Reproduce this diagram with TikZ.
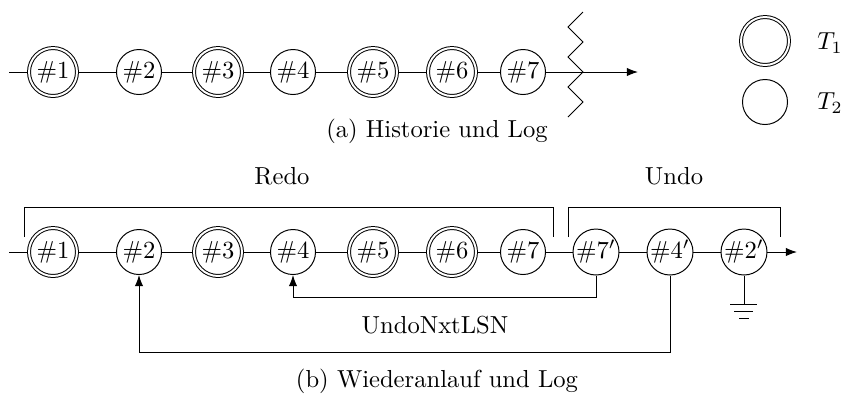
\documentclass[tikz,border=0pt]{standalone}
\usetikzlibrary{arrows.meta}
\begin{document}
\begin{tikzpicture}[x=0.4065pt,y=-0.4065pt,
  sstate/.style={draw,circle,inner sep=0pt,minimum size=18.3pt},
  dstate/.style={draw,circle,inner sep=0pt,minimum size=19.5pt,double,double distance=0.8pt,outer sep=0.8pt},
  arr/.style={-{Latex[length=4.5pt,width=3.4pt]}},
  lbl/.style={inner sep=0pt}]
\useasboundingbox (0,0) rectangle (846,395);
% row a
\node[dstate] (a1) at (53,72) {$\#1$};
\node[sstate] (a2) at (139,72) {$\#2$};
\node[dstate] (a3) at (218,72) {$\#3$};
\node[sstate] (a4) at (293,72) {$\#4$};
\node[dstate] (a5) at (373,72) {$\#5$};
\node[dstate] (a6) at (452,72) {$\#6$};
\node[sstate] (a7) at (523,72) {$\#7$};
\coordinate (a0) at (9,72);
\coordinate (az) at (583,72);
\coordinate (ae) at (638,72);
\draw (a0) -- (a1) -- (a2) -- (a3) -- (a4) -- (a5) -- (a6) -- (a7) -- (az);
\draw[arr] (az) -- (ae);
\draw (583,12) -- (568,27) -- (583,42) -- (568,57) -- (583,72) -- (568,87) -- (583,102) -- (568,117);
\node[lbl] (capa) at (437,131) {(a) Historie und Log};
% legend
\node[dstate] (t1) at (765,41) {};
\node[sstate] (t2) at (765,102) {};
\node[lbl] (t1l) at (830,43) {$T_1$};
\node[lbl] (t2l) at (830,103) {$T_2$};
% row b
\node[dstate] (b1) at (53,252) {$\#1$};
\node[sstate] (b2) at (139,252) {$\#2$};
\node[dstate] (b3) at (218,252) {$\#3$};
\node[sstate] (b4) at (293,252) {$\#4$};
\node[dstate] (b5) at (373,252) {$\#5$};
\node[dstate] (b6) at (452,252) {$\#6$};
\node[sstate] (b7) at (523,252) {$\#7$};
\node[sstate] (b7p) at (596,252) {$\#7'$};
\node[sstate] (b4p) at (670,252) {$\#4'$};
\node[sstate] (b2p) at (744,252) {$\#2'$};
\coordinate (b0) at (9,252);
\coordinate (be) at (797,252);
\draw (b0) -- (b1) -- (b2) -- (b3) -- (b4) -- (b5) -- (b6) -- (b7) -- (b7p) -- (b4p) -- (b2p);
\draw[arr] (b2p) -- (be);
% brackets
\draw (24,237) -- (24,207) -- (553,207) -- (553,237);
\draw (568,237) -- (568,207) -- (780,207) -- (780,237);
\node[lbl] (redo) at (282,176) {Redo};
\node[lbl] (undo) at (674,176) {Undo};
% undo next
\coordinate (u1) at (596,297);
\coordinate (u2) at (670,352);
\draw[arr] (b7p.south) -- (u1) -| (b4.south);
\draw[arr] (b4p.south) -- (u2) -| (b2.south);
\node[lbl] (unx) at (435,325) {UndoNxtLSN};
% ground
\coordinate (g) at (744,304);
\draw (b2p.south) -- (g);
\draw (730,304) -- (757,304);
\draw (734,311) -- (753,311);
\draw (739,318) -- (749,318);
\node[lbl] (capb) at (437,381) {(b) Wiederanlauf und Log};
\end{tikzpicture}
\end{document}
